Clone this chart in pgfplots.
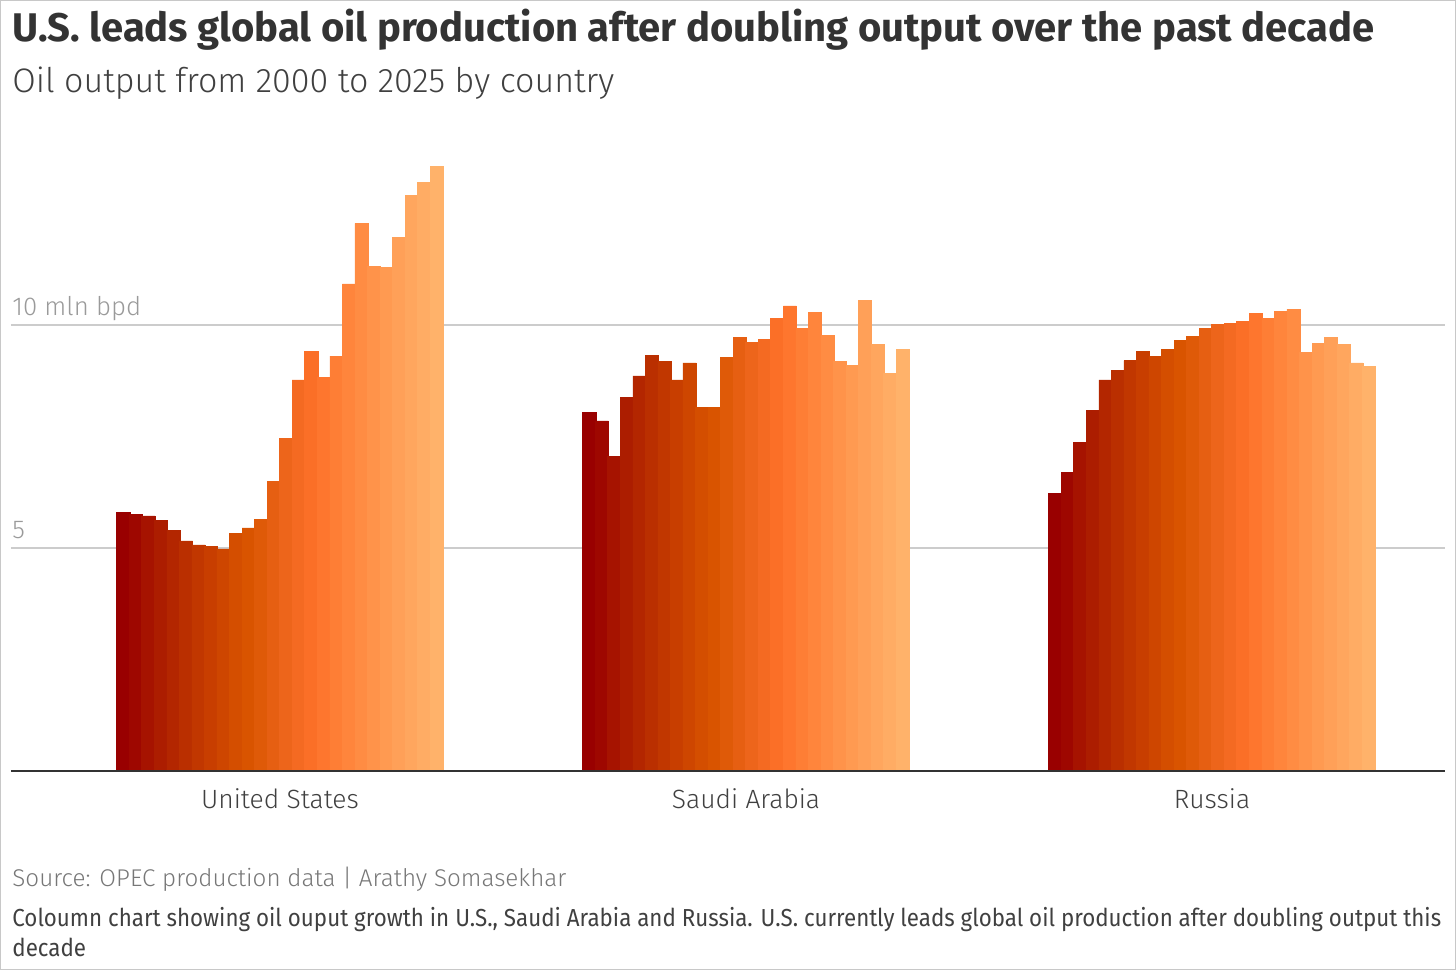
\documentclass[border=0pt]{standalone}
\usepackage{pgfplots}
\pgfplotsset{compat=1.18}
\usepackage{fontspec}
\setmainfont{Fira Sans}
\newfontfamily\lightfont{Fira Sans Light}
\newfontfamily\notefont{Fira Sans}[FakeStretch=0.908]

\definecolor{titlegray}{HTML}{333333}
\definecolor{subgray}{HTML}{404040}
\definecolor{tickgray}{HTML}{9A9A9A}
\definecolor{srcgray}{HTML}{777777}
\definecolor{gridgray}{HTML}{CCCCCC}
\definecolor{framegray}{HTML}{C8C8C8}
\definecolor{basegray}{HTML}{333333}

% one shade per year, 2000 (dark red) to 2025 (light orange)
\definecolor{y00}{HTML}{990000}
\definecolor{y01}{HTML}{9E0700}
\definecolor{y02}{HTML}{A61300}
\definecolor{y03}{HTML}{AC1D00}
\definecolor{y04}{HTML}{B32600}
\definecolor{y05}{HTML}{BA2F00}
\definecolor{y06}{HTML}{C13700}
\definecolor{y07}{HTML}{C83E00}
\definecolor{y08}{HTML}{CE4600}
\definecolor{y09}{HTML}{D44E00}
\definecolor{y10}{HTML}{D95400}
\definecolor{y11}{HTML}{DF5A08}
\definecolor{y12}{HTML}{E65F12}
\definecolor{y13}{HTML}{ED651B}
\definecolor{y14}{HTML}{F46A22}
\definecolor{y15}{HTML}{FB6F27}
\definecolor{y16}{HTML}{FE762E}
\definecolor{y17}{HTML}{FE7E35}
\definecolor{y18}{HTML}{FF853C}
\definecolor{y19}{HTML}{FF8C43}
\definecolor{y20}{HTML}{FF934A}
\definecolor{y21}{HTML}{FF9A51}
\definecolor{y22}{HTML}{FFA058}
\definecolor{y23}{HTML}{FFA65E}
\definecolor{y24}{HTML}{FFAC64}
\definecolor{y25}{HTML}{FFB26A}

% bars of one year; slightly wider than one unit so neighbours overlap without seams
\pgfplotsset{yr/.style={ybar, bar width=1.05, bar shift=0pt, fill=#1, draw=#1, line width=0.3pt}}

\begin{document}
\begin{tikzpicture}
\path[use as bounding box] (0,0) rectangle (728pt,485pt);
\draw[framegray, line width=0.5pt] (0.25pt,0.25pt) rectangle (727.75pt,484.75pt);

\node[anchor=base west, inner sep=0pt, text=titlegray,
      font=\fontsize{20pt}{24pt}\selectfont\bfseries] at (6pt,464.15pt)
  {U.S. leads global oil production after doubling output over the past decade};
\node[anchor=base west, inner sep=0pt, text=subgray,
      font=\lightfont\fontsize{17pt}{20pt}\selectfont] at (6pt,438.65pt)
  {Oil output from 2000 to 2025 by country};

\begin{axis}[
  at={(5.5pt,99.5pt)}, anchor=south west,
  scale only axis, width=717pt, height=312.2pt,
  xmin=-8.95, xmax=105.4, ymin=0, ymax=14,
  axis line style={draw=none},
  major tick length=0pt,
  ytick={5,10}, yticklabels={5,10 mln bpd},
  ymajorgrids, grid style={gridgray, line width=0.75pt},
  yticklabel style={anchor=base west, inner sep=0pt, xshift=0.5pt, yshift=4.5pt,
    text=tickgray, font=\lightfont\fontsize{12.9pt}{15pt}\selectfont},
  xtick={12.5,49.66,86.82},
  xticklabels={United States,Saudi Arabia,Russia},
  xticklabel style={anchor=base, inner sep=0pt, yshift=-18.65pt,
    text=subgray, font=\lightfont\fontsize{13.2pt}{15pt}\selectfont},
  clip=false,
]
% x = group offset (0, 37.16, 74.32) + year index; y = mln bpd
\addplot[yr=y00] coordinates {(0,5.79) (37.16,8.04) (74.32,6.22)};
\addplot[yr=y01] coordinates {(1,5.76) (38.16,7.85) (75.32,6.69)};
\addplot[yr=y02] coordinates {(2,5.72) (39.16,7.06) (76.32,7.37)};
\addplot[yr=y03] coordinates {(3,5.61) (40.16,8.37) (77.32,8.09)};
\addplot[yr=y04] coordinates {(4,5.40) (41.16,8.86) (78.32,8.77)};
\addplot[yr=y05] coordinates {(5,5.16) (42.16,9.31) (79.32,8.99)};
\addplot[yr=y06] coordinates {(6,5.07) (43.16,9.18) (80.32,9.20)};
\addplot[yr=y07] coordinates {(7,5.03) (44.16,8.77) (81.32,9.40)};
\addplot[yr=y08] coordinates {(8,4.98) (45.16,9.15) (82.32,9.30)};
\addplot[yr=y09] coordinates {(9,5.33) (46.16,8.15) (83.32,9.45)};
\addplot[yr=y10] coordinates {(10,5.45) (47.16,8.15) (84.32,9.65)};
\addplot[yr=y11] coordinates {(11,5.65) (48.16,9.27) (85.32,9.74)};
\addplot[yr=y12] coordinates {(12,6.49) (49.16,9.72) (86.32,9.92)};
\addplot[yr=y13] coordinates {(13,7.46) (50.16,9.61) (87.32,10.01)};
\addplot[yr=y14] coordinates {(14,8.77) (51.16,9.67) (88.32,10.04)};
\addplot[yr=y15] coordinates {(15,9.40) (52.16,10.15) (89.32,10.08)};
\addplot[yr=y16] coordinates {(16,8.82) (53.16,10.43) (90.32,10.26)};
\addplot[yr=y17] coordinates {(17,9.30) (54.16,9.92) (91.32,10.15)};
\addplot[yr=y18] coordinates {(18,10.92) (55.16,10.28) (92.32,10.31)};
\addplot[yr=y19] coordinates {(19,12.28) (56.16,9.77) (93.32,10.35)};
\addplot[yr=y20] coordinates {(20,11.31) (57.16,9.18) (94.32,9.39)};
\addplot[yr=y21] coordinates {(21,11.29) (58.16,9.09) (95.32,9.59)};
\addplot[yr=y22] coordinates {(22,11.96) (59.16,10.56) (96.32,9.72)};
\addplot[yr=y23] coordinates {(23,12.91) (60.16,9.57) (97.32,9.57)};
\addplot[yr=y24] coordinates {(24,13.19) (61.16,8.92) (98.32,9.15)};
\addplot[yr=y25] coordinates {(25,13.55) (62.16,9.45) (99.32,9.08)};
% zero line
\draw[basegray, line width=1pt] (axis cs:-8.95,0) -- (axis cs:105.4,0);
\end{axis}

\node[anchor=base west, inner sep=0pt, text=srcgray,
      font=\lightfont\fontsize{12.1pt}{15pt}\selectfont] at (6pt,42pt)
  {Source: OPEC production data | Arathy Somasekhar};
\node[anchor=base west, inner sep=0pt, text=subgray,
      font=\notefont\fontsize{12.3pt}{15pt}\selectfont] at (6pt,22pt)
  {Coloumn chart showing oil ouput growth in U.S., Saudi Arabia and Russia. U.S. currently leads global oil production after doubling output this};
\node[anchor=base west, inner sep=0pt, text=subgray,
      font=\notefont\fontsize{12.3pt}{15pt}\selectfont] at (6pt,6.65pt)
  {decade};
\end{tikzpicture}
\end{document}
